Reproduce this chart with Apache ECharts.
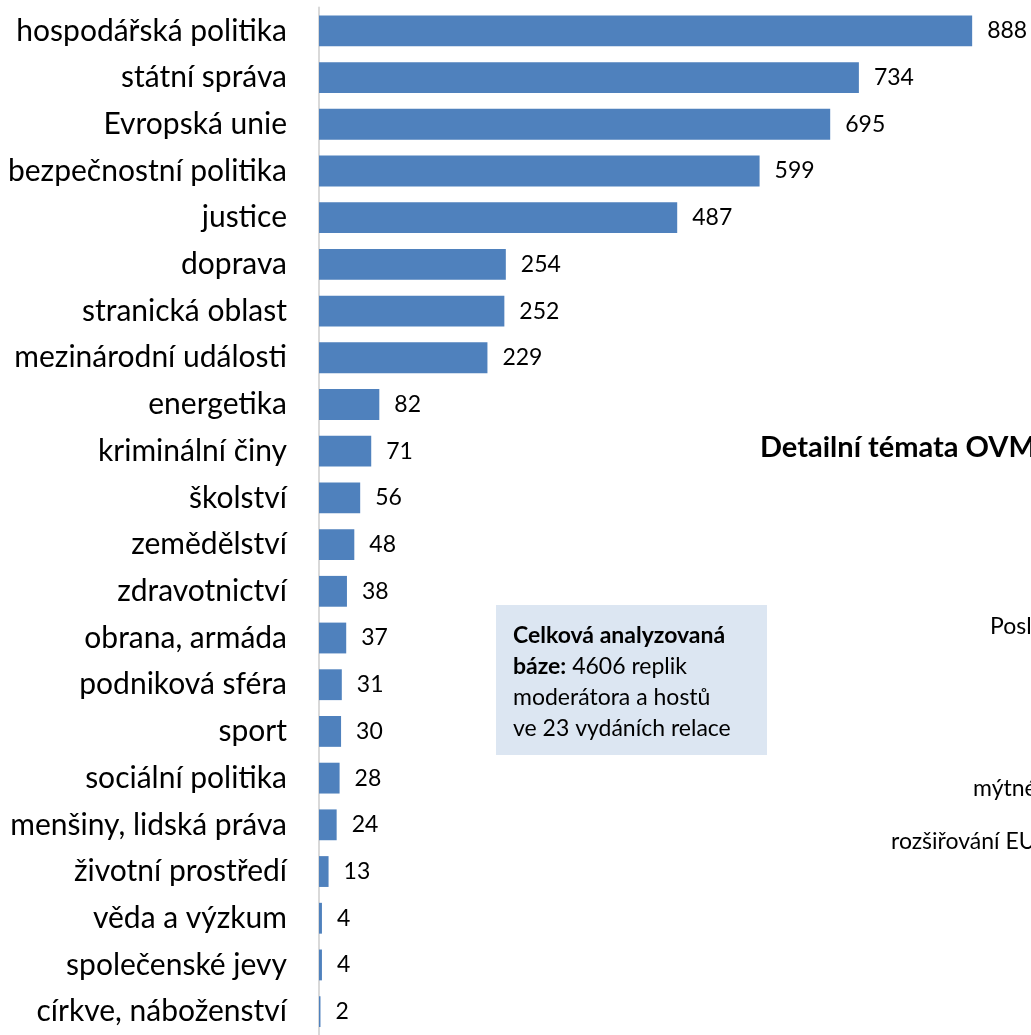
<!DOCTYPE html>
<html>
<head>
<meta charset="UTF-8">
<title>Témata</title>
<script src="https://cdn.jsdelivr.net/npm/echarts@6/dist/echarts.min.js"></script>
<style>
  html, body { margin: 0; padding: 0; background: #fff; }
  #main { width: 1031px; height: 1035px; }
</style>
</head>
<body>
<div id="main"></div>
<script>
// kategorie a počty replik
var categories = ['hospodářská politika', 'státní správa', 'Evropská unie', 'bezpečnostní politika',
  'justice', 'doprava', 'stranická oblast', 'mezinárodní události', 'energetika', 'kriminální činy',
  'školství', 'zemědělství', 'zdravotnictví', 'obrana, armáda', 'podniková sféra', 'sport',
  'sociální politika', 'menšiny, lidská práva', 'životní prostředí', 'věda a výzkum',
  'společenské jevy', 'církve, náboženství'];
var values = [888, 734, 695, 599, 487, 254, 252, 229, 82, 71, 56, 48, 38, 37, 31, 30, 28, 24, 13, 4, 4, 2];

var font = 'Lato, "Open Sans", sans-serif';
var chart = echarts.init(document.getElementById('main'));

var option = {
  animation: false,
  grid: { left: 319, right: 0, top: 7.5, bottom: -8.7, containLabel: false },
  xAxis: {
    type: 'value', min: 0, max: 968, show: false
  },
  yAxis: {
    type: 'category',
    inverse: true,
    data: categories,
    axisLine: { show: true, lineStyle: { color: '#d9d9d9', width: 2 } },
    axisTick: { show: false },
    axisLabel: { color: '#000', fontSize: 30, fontFamily: font, margin: 32 }
  },
  series: [{
    type: 'bar',
    data: values,
    barCategoryGap: '34%',
    itemStyle: { color: '#4f81bd' },
    label: {
      show: true, position: 'right', distance: 15,
      color: '#000', fontSize: 23, fontFamily: font
    }
  }],
  graphic: [
    {
      type: 'rect', left: 496, top: 605,
      shape: { width: 271, height: 150 },
      style: { fill: '#dce6f2' }
    },
    {
      type: 'text', left: 513, top: 620,
      style: {
        text: '{b|Celková analyzovaná}\n{b|báze:} 4606 replik\nmoderátora a hostů\nve 23 vydáních relace',
        fontSize: 23, fontFamily: font, fill: '#000', lineHeight: 31,
        rich: { b: { fontWeight: 'bold', fontSize: 23, fontFamily: font, lineHeight: 31 } }
      }
    },
    {
      type: 'text', x: 760, y: 448,
      style: { text: 'Detailní témata OVM', fontSize: 29, fontWeight: 'bold', fontFamily: font,
        fill: '#000', verticalAlign: 'middle' }
    },
    {
      type: 'text', x: 990, y: 627,
      style: { text: 'Posl', fontSize: 23, fontFamily: font, fill: '#000', verticalAlign: 'middle' }
    },
    {
      type: 'text', x: 973, y: 789,
      style: { text: 'mýtné', fontSize: 23, fontFamily: font, fill: '#000', verticalAlign: 'middle' }
    },
    {
      type: 'text', x: 891, y: 842,
      style: { text: 'rozšiřování EU', fontSize: 23, fontFamily: font, fill: '#000', verticalAlign: 'middle' }
    }
  ]
};

chart.setOption(option);
</script>
</body>
</html>
